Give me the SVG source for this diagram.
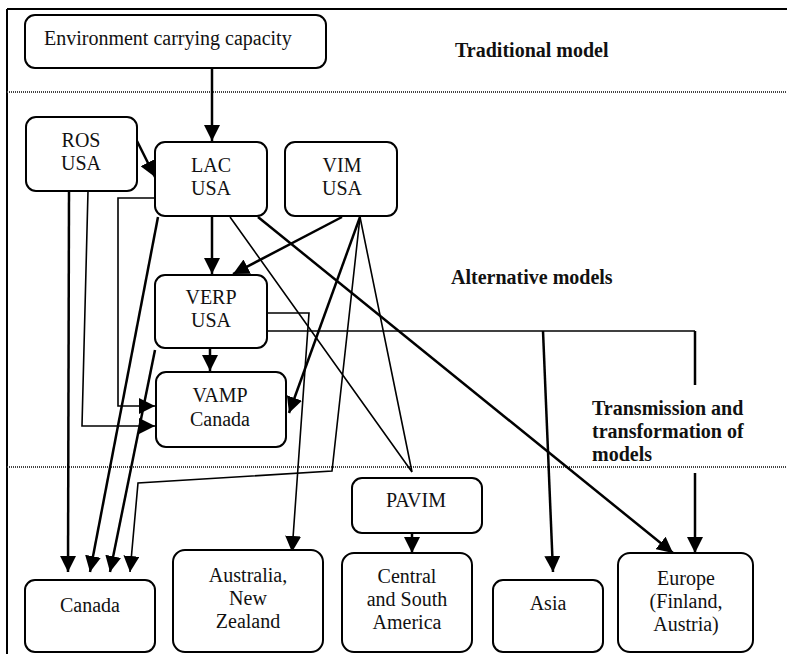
<svg xmlns="http://www.w3.org/2000/svg" width="787" height="654" viewBox="0 0 787 654">
<style>
.box{fill:#fff;stroke:#000;stroke-width:2}
.t{font-family:"Liberation Serif","Times New Roman",serif;font-size:20px;fill:#111;text-anchor:middle}
.b{font-family:"Liberation Serif","Times New Roman",serif;font-size:20px;font-weight:bold;fill:#111}
.thick{fill:none;stroke:#000;stroke-width:2.5}
.thin{fill:none;stroke:#000;stroke-width:1.6}
.sep{stroke:#444;stroke-width:2;stroke-dasharray:1 1}
</style>
<defs>
<marker id="ah" markerUnits="userSpaceOnUse" markerWidth="16" markerHeight="16" viewBox="0 0 14 14" refX="14" refY="7" orient="auto">
<path d="M0,0 L14,7 L0,14 z" fill="#000"/>
</marker>
</defs>
<rect width="787" height="654" fill="#fff"/>
<g id="frame">
<line x1="7" y1="9" x2="787" y2="9" stroke="#000" stroke-width="2"/>
<line x1="7" y1="9" x2="7" y2="654" stroke="#000" stroke-width="2"/>
<line class="sep" x1="7" y1="92" x2="787" y2="92"/>
<line class="sep" x1="7" y1="467" x2="787" y2="467"/>
</g>
<g id="labels">
<text class="b" x="455" y="57">Traditional model</text>
<text class="b" x="451" y="284">Alternative models</text>
<text class="b" x="592" y="415">Transmission and</text>
<text class="b" x="592" y="438">transformation of</text>
<text class="b" x="592" y="461">models</text>
</g>
<g id="connectors">
<line class="thick" x1="212" y1="68" x2="212" y2="141" marker-end="url(#ah)"/>
<line class="thick" x1="137" y1="141" x2="155" y2="177" marker-end="url(#ah)"/>
<line class="thick" x1="212" y1="216" x2="212" y2="274" marker-end="url(#ah)"/>
<line class="thick" x1="342" y1="217" x2="233" y2="274" marker-end="url(#ah)"/>
<line class="thick" x1="210" y1="348" x2="210" y2="371" marker-end="url(#ah)"/>
<line class="thick" x1="69" y1="191" x2="68" y2="572" marker-end="url(#ah)"/>
<polyline class="thin" points="88,191 82,426 155,426" marker-end="url(#ah)"/>
<polyline class="thin" points="155,198 118,198 118,406 155,406" marker-end="url(#ah)"/>
<line class="thick" x1="158" y1="217" x2="90" y2="572" marker-end="url(#ah)"/>
<line class="thick" x1="155" y1="350" x2="110" y2="572" marker-end="url(#ah)"/>
<polyline class="thin" points="360,217 332,471 138,483 130,572" marker-end="url(#ah)"/>
<line class="thick" x1="360" y1="217" x2="289" y2="413" marker-end="url(#ah)"/>
<polyline class="thin" points="230,217 412,472 360,217"/>
<line class="thick" x1="258" y1="217" x2="673" y2="553" marker-end="url(#ah)"/>
<polyline class="thin" points="267,313 309,313 292,552" marker-end="url(#ah)"/>
<line class="thin" x1="267" y1="331" x2="695" y2="331"/>
<line class="thick" x1="543" y1="331" x2="553" y2="572" marker-end="url(#ah)"/>
<line class="thick" x1="695" y1="331" x2="695" y2="385"/>
<line class="thick" x1="695" y1="473" x2="695" y2="553" marker-end="url(#ah)"/>
<line class="thick" x1="412" y1="533" x2="412" y2="553" marker-end="url(#ah)"/>
</g>
<g id="env">
<rect class="box" x="25" y="15" width="301" height="53" rx="10"/>
<text class="t" x="44" y="45" style="text-anchor:start">Environment carrying capacity</text>
</g>
<g id="ros">
<rect class="box" x="26" y="117" width="111" height="74" rx="10"/>
<text class="t" x="81" y="147">ROS</text>
<text class="t" x="81" y="170">USA</text>
</g>
<g id="lac">
<rect class="box" x="155" y="142" width="112" height="74" rx="10"/>
<text class="t" x="211" y="172">LAC</text>
<text class="t" x="211" y="195">USA</text>
</g>
<g id="vim">
<rect class="box" x="285" y="142" width="112" height="74" rx="10"/>
<text class="t" x="342" y="172">VIM</text>
<text class="t" x="342" y="195">USA</text>
</g>
<g id="verp">
<rect class="box" x="155" y="275" width="112" height="73" rx="10"/>
<text class="t" x="211" y="304">VERP</text>
<text class="t" x="211" y="327">USA</text>
</g>
<g id="vamp">
<rect class="box" x="156" y="372" width="130" height="75" rx="10"/>
<text class="t" x="220" y="402">VAMP</text>
<text class="t" x="220" y="426">Canada</text>
</g>
<g id="pavim">
<rect class="box" x="352" y="478" width="130" height="55" rx="10"/>
<text class="t" x="416" y="507">PAVIM</text>
</g>
<g id="canada">
<rect class="box" x="25" y="580" width="130" height="72" rx="10"/>
<text class="t" x="90" y="612">Canada</text>
</g>
<g id="australia">
<rect class="box" x="173" y="550" width="150" height="102" rx="12"/>
<text class="t" x="248" y="582">Australia,</text>
<text class="t" x="248" y="605">New</text>
<text class="t" x="248" y="628">Zealand</text>
</g>
<g id="central">
<rect class="box" x="342" y="553" width="130" height="99" rx="12"/>
<text class="t" x="407" y="583">Central</text>
<text class="t" x="407" y="606">and South</text>
<text class="t" x="407" y="629">America</text>
</g>
<g id="asia">
<rect class="box" x="493" y="580" width="110" height="72" rx="10"/>
<text class="t" x="548" y="610">Asia</text>
</g>
<g id="europe">
<rect class="box" x="618" y="553" width="135" height="99" rx="12"/>
<text class="t" x="686" y="585">Europe</text>
<text class="t" x="686" y="608">(Finland,</text>
<text class="t" x="686" y="631">Austria)</text>
</g>
</svg>
